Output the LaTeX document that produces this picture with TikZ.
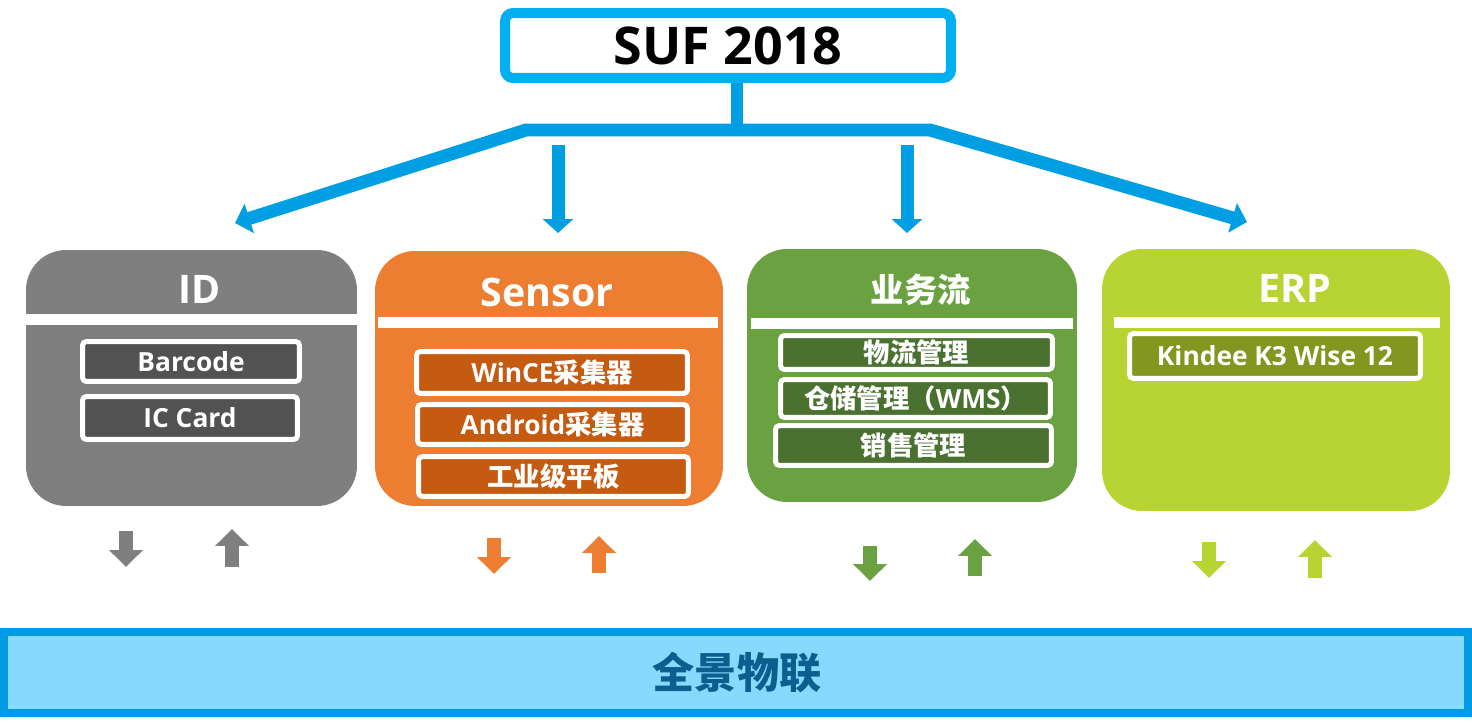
\documentclass[tikz,border=0pt]{standalone}
\usepackage{fontspec}
\setmainfont{Open Sans}
\newfontfamily\cjk{Noto Sans CJK SC}
\usetikzlibrary{arrows.meta}

\definecolor{sufblue}{HTML}{00B0F0}
\definecolor{linkblue}{HTML}{009FE3}
\definecolor{idgray}{HTML}{7F7F7F}
\definecolor{idgraydk}{HTML}{525252}
\definecolor{sensorange}{HTML}{ED7D31}
\definecolor{sensorangedk}{HTML}{C55A11}
\definecolor{flowgreen}{HTML}{6AA141}
\definecolor{flowgreendk}{HTML}{4A7130}
\definecolor{erplime}{HTML}{B8D432}
\definecolor{erplimedk}{HTML}{829620}
\definecolor{basefill}{HTML}{87D9FE}
\definecolor{baseline}{HTML}{009BE3}
\definecolor{basetext}{HTML}{0B5E8E}

\tikzset{
  panel/.style={rounded corners=0.8cm, inner sep=0pt},
  paneltitle/.style={text=white, font=\fontsize{22.4}{26}\selectfont\bfseries},
  panelsep/.style={draw=white, line width=0.22cm},
  item/.style={draw=white, line width=0.1cm, rounded corners=0.08cm, inner sep=0pt,
    text=white, font=\fontsize{15}{18}\selectfont\bfseries},
  link/.style={draw=linkblue, line width=0.26cm, -{Triangle[width=0.6cm,length=0.28cm]}},
  updown/.style={draw=#1, line width=0.28cm, -{Triangle[width=0.66cm,length=0.34cm]}}
}

\begin{document}
\begin{tikzpicture}[x=0.02cm, y=-0.02cm]
\useasboundingbox (0,0) rectangle (1472,723);
% top title
\node[draw=sufblue, fill=white, line width=0.2cm, rounded corners=0.16cm, inner sep=0pt,
  minimum width=8.92cm, minimum height=1.30cm, font=\fontsize{29.6}{34}\selectfont\bfseries]
  (suf) at (728,45.5) {SUF 2018};
% distribution bar
\coordinate (hub) at (737,130);
\coordinate (hubL) at (526,130);
\coordinate (hubR) at (930,130);
\coordinate (idtip) at (235,223);
\coordinate (erptip) at (1247,222);
\coordinate (senstop) at (558,145);
\coordinate (senstip) at (558,233);
\coordinate (flowtop) at (907,145);
\coordinate (flowtip) at (907,233);
\draw[draw=linkblue, line width=0.24cm] (suf.south -| hub) -- (hub);
\draw[link, {Triangle[width=0.6cm,length=0.3cm]}-{Triangle[width=0.6cm,length=0.3cm]}]
  (idtip) -- (hubL) -- (hubR) -- (erptip);
\draw[link] (senstop) -- (senstip);
\draw[link] (flowtop) -- (flowtip);
% ID panel
\node[panel, fill=idgray, minimum width=6.62cm, minimum height=5.12cm] (idbox) at (191.5,378) {};
\node[paneltitle] (idtitle) at (200,289) {ID};
\draw[panelsep] (26,319.5) -- (357,319.5);
\node[item, fill=idgraydk, minimum width=4.34cm, minimum height=0.80cm] (barcode) at (191,361.5) {Barcode};
\node[item, fill=idgraydk, minimum width=4.30cm, minimum height=0.86cm] (iccard) at (190,418) {IC Card};
% Sensor panel
\node[panel, fill=sensorange, minimum width=6.96cm, minimum height=5.10cm] (sensbox) at (549,378.5) {};
\node[paneltitle] (senstitle) at (547,292) {Sensor};
\draw[panelsep] (378,322.5) -- (718,322.5);
\node[item, fill=sensorangedk, minimum width=5.42cm, minimum height=0.84cm] (wince) at (552,372.5) {WinCE{\cjk 采集器}};
\node[item, fill=sensorangedk, minimum width=5.40cm, minimum height=0.80cm] (android) at (552.5,424.5) {Android{\cjk 采集器}};
\node[item, fill=sensorangedk, minimum width=5.40cm, minimum height=0.80cm] (tablet) at (553.5,476.5) {\cjk 工业级平板};
% business flow panel
\node[panel, fill=flowgreen, minimum width=6.60cm, minimum height=5.06cm] (flowbox) at (912,375.5) {};
\node[paneltitle, font=\fontsize{19}{22}\selectfont\cjk\bfseries] (flowtitle) at (921,290) {业务流};
\draw[panelsep] (751,323.5) -- (1073,323.5);
\node[item, fill=flowgreendk, minimum width=5.44cm, minimum height=0.68cm] (logistics) at (916.5,352.5) {\cjk 物流管理};
\node[item, fill=flowgreendk, minimum width=5.40cm, minimum height=0.76cm] (wms) at (915.5,398.5) {{\cjk 仓储管理（}WMS{\cjk ）}};
\node[item, fill=flowgreendk, minimum width=5.52cm, minimum height=0.80cm] (sales) at (913.5,445.5) {\cjk 销售管理};
% ERP panel
\node[panel, fill=erplime, minimum width=6.96cm, minimum height=5.24cm] (erpbox) at (1276,380) {};
\node[paneltitle] (erptitle) at (1295,288) {ERP};
\draw[panelsep] (1114,322.5) -- (1440,322.5);
\node[item, fill=erplimedk, minimum width=5.82cm, minimum height=0.90cm] (kindee) at (1275,356) {Kindee K3 Wise 12};
% exchange arrows
\draw[updown=idgray] (126,531) -- (126,567);
\draw[updown=idgray] (232,567) -- (232,529);
\draw[updown=sensorange] (494,538) -- (494,574);
\draw[updown=sensorange] (599,573) -- (599,536);
\draw[updown=flowgreen] (870,546) -- (870,581);
\draw[updown=flowgreen] (975,576) -- (975,539);
\draw[updown=erplime] (1209,542) -- (1209,578);
\draw[updown=erplime] (1315,578) -- (1315,540);
% base platform
\node[draw=baseline, fill=basefill, line width=0.16cm, inner sep=0pt,
  minimum width=29.28cm, minimum height=1.62cm] (base) at (736,672.5) {};
\node[text=basetext, font=\fontsize{24}{28}\selectfont\cjk\bfseries] (basetitle) at (737,672.5) {全景物联};
\end{tikzpicture}
\end{document}
